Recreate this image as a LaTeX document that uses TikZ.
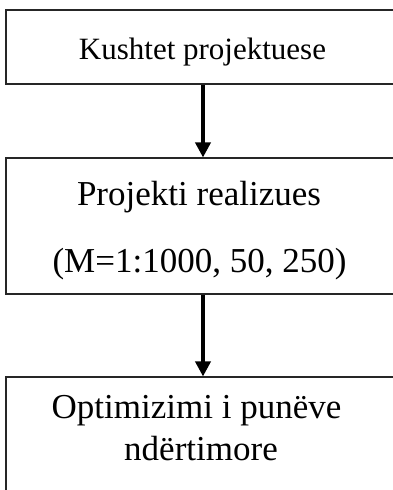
\documentclass[tikz,border=0pt]{standalone}
\usepackage{fontspec}
\setmainfont{Liberation Serif}
\usetikzlibrary{arrows.meta}
\begin{document}
\begin{tikzpicture}[x=1pt,y=-1pt,
  box/.style={draw=black!85, line width=1.1pt, rectangle, minimum width=394pt, inner sep=0pt},
  flow/.style={line width=3.6pt, -{Triangle[width=15pt,length=15pt]}},
  lbl/.style={anchor=base, inner sep=0pt, text=black},
  small/.style={font=\fontsize{31}{37}\selectfont},
  big/.style={font=\fontsize{35}{42}\selectfont}]
\useasboundingbox (0,0) rectangle (393,490);
\clip (0,0) rectangle (393,490);
\node[box, minimum height=74pt] (b1) at (203,47) {};
\node[box, minimum height=136pt] (b2) at (203,226) {};
\node[box, minimum height=128pt] (b3) at (203,441) {};
\node[lbl, small] (t1) at (202.5,59) {Kushtet projektuese};
\node[lbl, big] (t2a) at (199,205) {Projekti realizues};
\node[lbl, big] (t2b) at (199.5,272) {(M=1:1000, 50, 250)};
\node[lbl, big] (t3a) at (196.5,418) {Optimizimi i punëve};
\node[lbl, big] (t3b) at (201,460) {ndërtimore};
\draw[flow] (b1.south) -- (b2.north);
\draw[flow] (b2.south) -- (b3.north);
\end{tikzpicture}
\end{document}
